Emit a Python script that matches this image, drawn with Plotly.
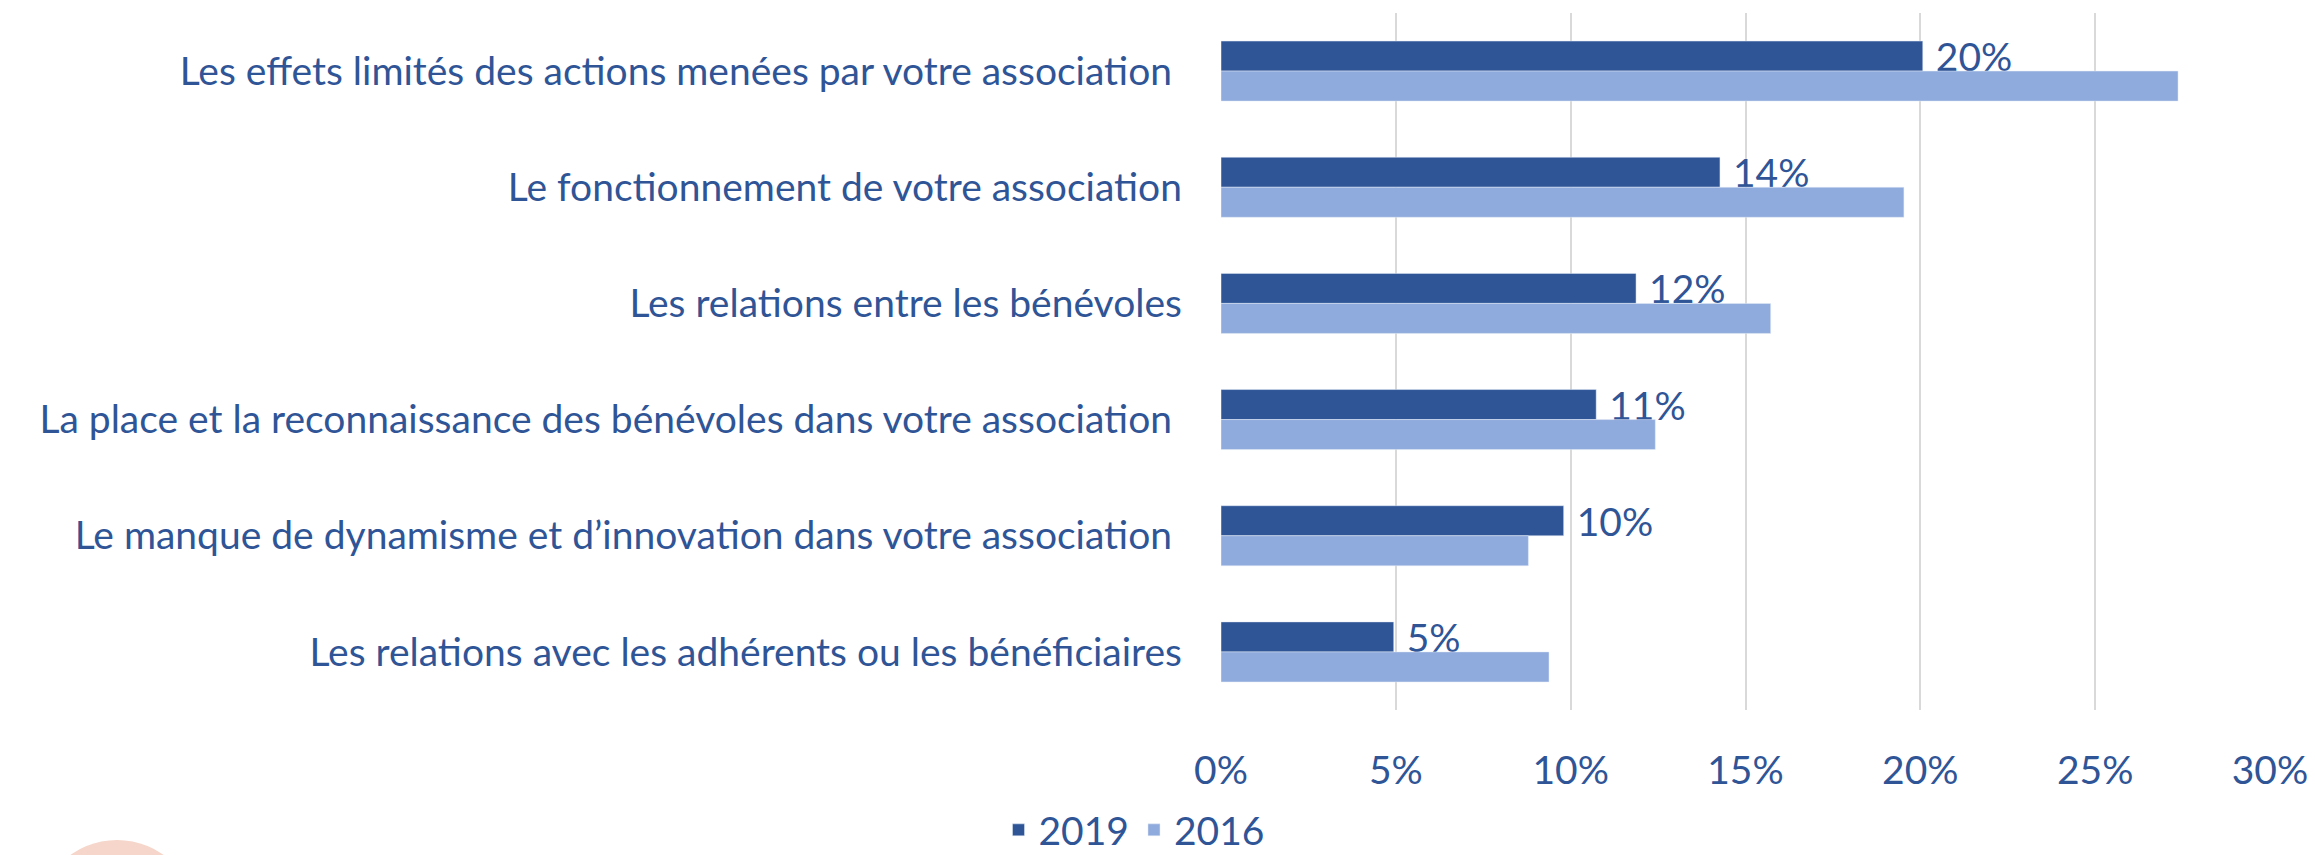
import plotly.graph_objects as go

# Categories, top to bottom (trailing nbsp kept where the source had a trailing space)
categories = [
    "Les effets limités des actions menées par votre association\u00a0",
    "Le fonctionnement de votre association",
    "Les relations entre les bénévoles",
    "La place et la reconnaissance des bénévoles dans votre association\u00a0",
    "Le manque de dynamisme et d\u2019innovation dans votre association\u00a0",
    "Les relations avec les adhérents ou les bénéficiaires",
]
values_2019 = [0.2007, 0.1427, 0.1187, 0.1073, 0.0980, 0.0494]
values_2016 = [0.2737, 0.1953, 0.1572, 0.1242, 0.0879, 0.0938]
x_ticks = [0, 0.05, 0.10, 0.15, 0.20, 0.25, 0.30]

DARK = "#2F5597"
LIGHT = "#8FAADC"
TEXT = "#2F5597"
FONT = "Lato"
FS = 39

# the page body has an 8px default margin, so the figure is sized to fit inside the window
OFF = 8
W, H = 2315 - OFF, 855 - OFF
# plot area in window pixels: x 1221..2270, y 13..710
PX0, PX1, PY0, PY1 = 1221, 2270, 13, 710
L, R, T, B = PX0 - OFF, W + OFF - PX1, PY0 - OFF, H + OFF - PY1

fig = go.Figure()
fig.add_trace(go.Bar(
    y=categories, x=values_2019, name="2019", orientation="h",
    marker=dict(color=DARK),
    texttemplate="\u00a0%{x:.0%}", textposition="outside",
    constraintext="none", cliponaxis=False,
    textfont=dict(family=FONT, size=FS, color=TEXT),
))
fig.add_trace(go.Bar(
    y=categories, x=values_2016, name="2016", orientation="h",
    marker=dict(color=LIGHT),
))

# window pixel -> paper coords (for legend and the decorative circle)
def px(x):
    return (x - PX0) / (PX1 - PX0)
def py(y):
    return (PY1 - y) / (PY1 - PY0)

fig.update_layout(
    width=W, height=H,
    margin=dict(l=L, r=R, t=T, b=B, autoexpand=False),
    paper_bgcolor="white", plot_bgcolor="white",
    barmode="group", bargap=0.483, bargroupgap=0,
    font=dict(family=FONT, size=FS, color=TEXT),
    xaxis=dict(
        range=[0, 0.30], tickvals=x_ticks, tickformat=".0%",
        showgrid=True, gridcolor="#D9D9D9", gridwidth=2,
        zeroline=False, showline=False, ticks="",
        ticklabelstandoff=34,
        tickfont=dict(family=FONT, size=FS, color=TEXT),
    ),
    yaxis=dict(
        autorange="reversed", showgrid=False, zeroline=False, showline=False,
        ticks="", ticklabelstandoff=38,
        tickfont=dict(family=FONT, size=FS, color=TEXT),
    ),
    legend=dict(
        orientation="h", x=px(1134), xanchor="center", y=py(830), yanchor="middle",
        font=dict(family=FONT, size=FS, color=TEXT), traceorder="normal",
        itemwidth=30, bgcolor="rgba(0,0,0,0)",
    ),
    shapes=[dict(
        type="circle", xref="paper", yref="paper",
        x0=px(37), x1=px(197), y0=py(1000), y1=py(840),
        fillcolor="#F6D6CA", line=dict(width=0), layer="below",
    )],
)

fig.write_html("out.html")
